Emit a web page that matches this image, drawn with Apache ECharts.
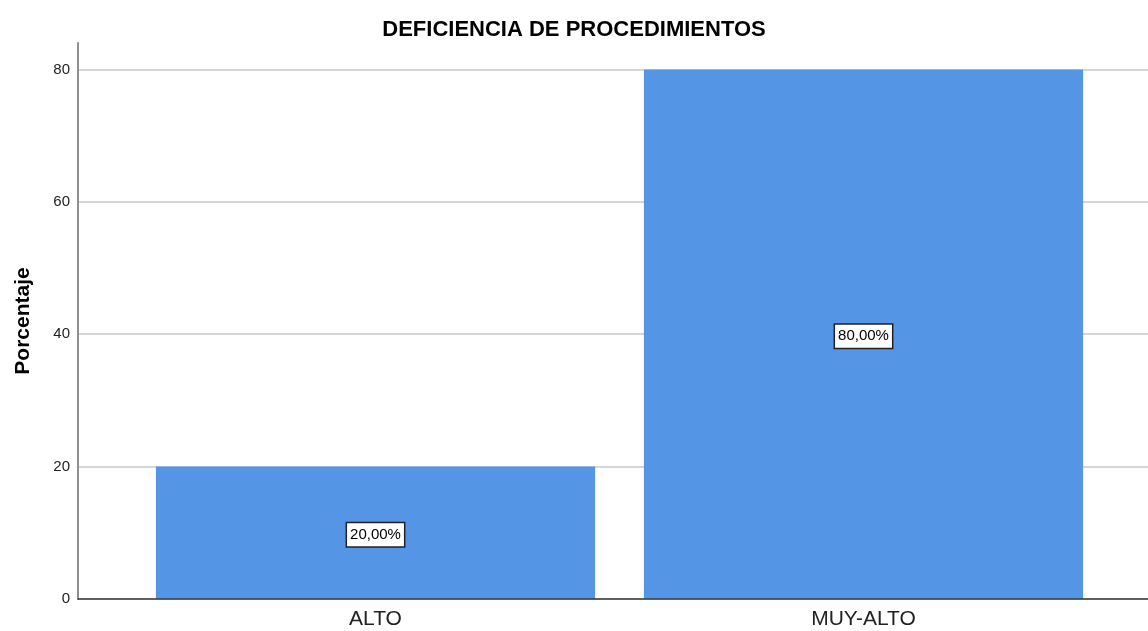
<!DOCTYPE html>
<html>
<head>
<meta charset="utf-8">
<script src="https://cdn.jsdelivr.net/npm/echarts@6/dist/echarts.min.js"></script>
<style>
html,body{margin:0;padding:0;background:#fff;}
#chart{width:1148px;height:631px;}
</style>
</head>
<body>
<div id="chart"></div>
<script>
const titleText = 'DEFICIENCIA DE PROCEDIMIENTOS';
const yAxisName = 'Porcentaje';
const categories = ['ALTO', 'MUY-ALTO'];
const percentages = [20, 80];
const yMin = 0, yMax = 84, yInterval = 20;

const chart = echarts.init(document.getElementById('chart'), null, {renderer: 'canvas'});
const font = 'Liberation Sans, Arial, sans-serif';
const option = {
  backgroundColor: '#ffffff',
  animation: false,
  title: {
    text: titleText,
    left: 'center',
    top: 19,
    padding: 0,
    textStyle: {fontFamily: font, fontSize: 22, fontWeight: 'bold', color: '#000'}
  },
  grid: [
    {left: 78, right: 0, top: 43, bottom: 32},
    {left: 131.5, right: 40.5, top: 43, bottom: 32}
  ],
  xAxis: [
    {
      gridIndex: 0, type: 'category', data: categories, z: 5,
      axisLine: {show: true, lineStyle: {color: '#3a3a3a', width: 1.5}},
      axisTick: {show: false}, axisLabel: {show: false}, splitLine: {show: false}
    },
    {
      gridIndex: 1, type: 'category', data: categories,
      axisLine: {show: false}, axisTick: {show: false},
      axisLabel: {margin: 10, fontFamily: font, fontSize: 21, color: '#222'}
    }
  ],
  yAxis: [
    {
      gridIndex: 0, type: 'value', min: yMin, max: yMax, interval: yInterval, z: 0,
      name: yAxisName, nameLocation: 'middle', nameGap: 44, nameRotate: 90,
      nameTextStyle: {fontFamily: font, fontSize: 21, fontWeight: 'bold', color: '#000'},
      axisLine: {show: true, lineStyle: {color: '#8f8f8f', width: 2}},
      axisTick: {show: false},
      axisLabel: {margin: 8, fontFamily: font, fontSize: 15, color: '#222', showMaxLabel: false},
      splitLine: {show: true, lineStyle: {color: ['#d6d6d6','#d6d6d6','#d6d6d6','#d6d6d6','#d6d6d6','rgba(0,0,0,0)'], width: 2}}
    },
    {
      gridIndex: 1, type: 'value', min: yMin, max: yMax, interval: yInterval, show: false,
      splitLine: {show: false}
    }
  ],
  series: [{
    type: 'bar',
    xAxisIndex: 1, yAxisIndex: 1,
    z: 3,
    data: percentages,
    barWidth: '90%',
    itemStyle: {color: '#5595e5'},
    label: {
      show: true, position: 'inside', offset: [0, 2],
      formatter: p => p.value.toFixed(2).replace('.', ',') + '%',
      fontFamily: font, fontSize: 15, color: '#000',
      backgroundColor: '#fff', borderColor: '#222', borderWidth: 1.5, padding: [4, 3]
    }
  }]
};
chart.setOption(option);
</script>
</body>
</html>
